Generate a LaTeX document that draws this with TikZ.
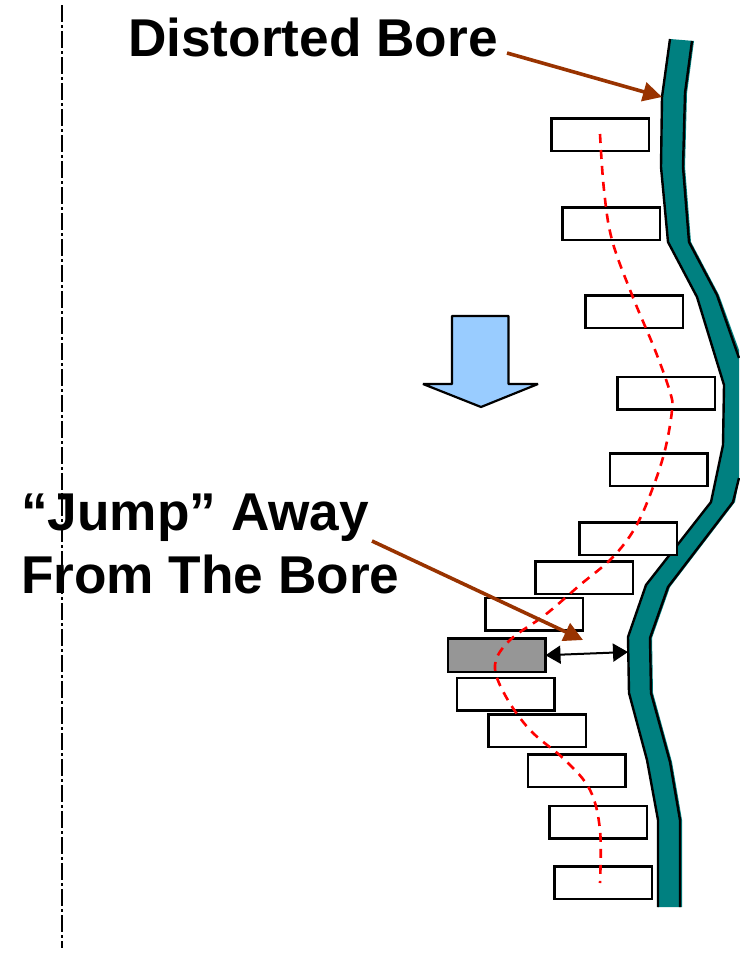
\documentclass[tikz,border=0pt]{standalone}
\usepackage{fontspec}
\setmainfont{Liberation Sans}
\usetikzlibrary{arrows.meta}
\definecolor{wallteal}{HTML}{008080}
\definecolor{leader}{HTML}{993300}
\definecolor{flowblue}{HTML}{99CCFF}
\definecolor{padgray}{HTML}{969696}
\tikzset{
  pad/.style={draw=black,line width=2.2pt,fill=white,minimum width=97.5pt,minimum height=32.5pt,inner sep=0pt,outer sep=0pt,anchor=north west},
  leaderline/.style={draw=leader,line width=3.6pt,-{Triangle[length=19pt,width=19pt]}},
  wallline/.style={draw=black,line width=2.4pt,line join=miter},
  bigtext/.style={font=\bfseries\fontsize{53.2}{64}\selectfont,inner sep=0pt,anchor=base west,align=left}
}
\begin{document}
\begin{tikzpicture}[x=1pt,y=-1pt]
\useasboundingbox (0,0) rectangle (739,953);
\fill[white] (0,0) rectangle (739,953);
% centre line
\coordinate (cltop) at (62,5);
\coordinate (clbot) at (62,948);
\draw[black,line width=1.8pt,dash pattern=on 17pt off 3pt on 3pt off 3pt] (cltop) -- (clbot);
% bore wall
\fill[wallteal] (670,39) -- (662,97) -- (661,167) -- (668,242) -- (697,297) -- (724,385) -- (723,445) -- (711,502) -- (646,585) -- (628,637) -- (629,693) -- (647,760) -- (658,820) -- (658,907)
 -- (682,907) -- (682,820) -- (672,762) -- (653,693) -- (652,638) -- (670,587) -- (735,502) -- (739,480) -- (739,350) -- (719,295) -- (691,242) -- (685,167) -- (687,93) -- (694,41) -- cycle;
\draw[wallline] (670,39) -- (662,97) -- (661,167) -- (668,242) -- (697,297) -- (724,385) -- (723,445) -- (711,502) -- (646,585) -- (628,637) -- (629,693) -- (647,760) -- (658,820) -- (658,907);
\draw[wallline] (692,41) -- (685,93) -- (683,167) -- (689,242) -- (717,295) -- (739,358);
\draw[wallline] (739,478) -- (733,502) -- (668,587) -- (650,638) -- (651,693) -- (670,762) -- (680,820) -- (680,907);
% pads
\node[pad] (p1) at (551.5,118.5) {};
\node[pad] (p2) at (562.5,207.5) {};
\node[pad] (p3) at (585.5,295.5) {};
\node[pad] (p4) at (617.5,377) {};
\node[pad] (p5) at (610,453.5) {};
\node[pad] (p6) at (579.5,522.5) {};
\node[pad] (p7) at (535.5,561.5) {};
\node[pad] (p8) at (485.5,598) {};
\node[pad,fill=padgray,minimum height=33.5pt] (p9) at (448,638.5) {};
\node[pad] (p10) at (457,678) {};
\node[pad] (p11) at (488.5,714.5) {};
\node[pad] (p12) at (528,754.5) {};
\node[pad] (p13) at (549.5,806) {};
\node[pad] (p14) at (554.5,866.5) {};
% red path
\draw[red,line width=2.6pt,dash pattern=on 9pt off 7pt] plot[smooth,tension=0.6] coordinates {(600,134) (604,190) (612,240) (632,295) (655,350) (670,392) (672,410) (665,450) (652,490) (635,528) (612,558) (580,585) (545,615) (510,640) (495,665) (505,695) (530,730) (565,760) (590,790) (600,830) (600,883)};
% block arrow
\draw[black,line width=2.2pt,fill=flowblue,line join=bevel] (452,316) -- (508.5,316) -- (508.5,384) -- (538,384) -- (481,407) -- (423,384) -- (452,384) -- cycle;
% gap arrow
\coordinate (wallpt) at (628,652);
\draw[black,line width=2pt,{Triangle[length=15pt,width=18pt]}-{Triangle[length=15pt,width=18pt]}] (p9.east) -- (wallpt);
% labels
\node[bigtext] (lab1) at (128,56) {Distorted Bore};
\node[bigtext] (lab2) at (21,530) {“Jump” Away};
\node[bigtext] (lab3) at (21,593) {From The Bore};
\coordinate (a1s) at (507,53);
\coordinate (a1e) at (662,97);
\coordinate (a2s) at (372,541);
\coordinate (a2e) at (583,640);
\draw[leaderline] (a1s) -- (a1e);
\draw[leaderline] (a2s) -- (a2e);
\end{tikzpicture}
\end{document}
